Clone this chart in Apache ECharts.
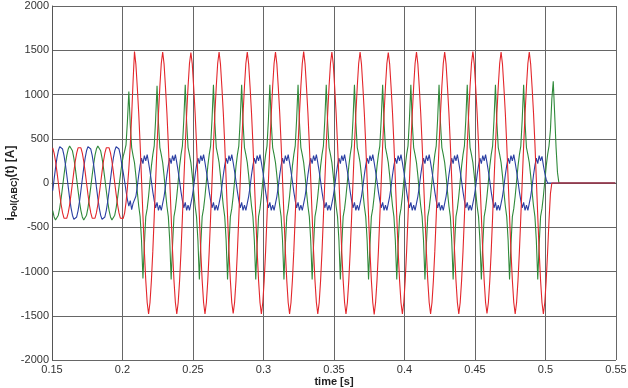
<!DOCTYPE html>
<html><head><meta charset="utf-8">
<script src="https://cdn.jsdelivr.net/npm/echarts/dist/echarts.min.js"></script>
<style>html,body{margin:0;padding:0;background:#fff}#c{width:628px;height:388px}</style>
</head><body><div id="c"></div>
<script>
// sampling grid: t = tStart + i * tStep  [s]
const tStart = 0.1505;
const tStep = 0.001;
const xMin = 0.15, xMax = 0.55, xStep = 0.05;
const yMin = -2000, yMax = 2000, yStep = 500;

// phase A (red) current [A]
const phaseRed = [
398,338,246,129,0,-129,-246,-338,-398,-418,-398,-338,-246,-129,0,129,246,338,398,418,
398,338,246,129,0,-129,-246,-338,-398,-418,-398,-338,-246,-129,0,129,246,338,398,418,
398,338,246,129,0,-129,-246,-338,-398,-418,
-400,-340,-220,-50,160,420,760,1150,
1485,1340,1080,790,440,40,-370,-770,-1100,-1350,-1480,-1350,-1100,-770,-380,20,420,780,1090,1350,
1480,1340,1080,790,440,40,-370,-770,-1100,-1350,-1480,-1350,-1100,-770,-380,20,420,780,1090,1350,
1475,1340,1080,790,440,40,-370,-770,-1100,-1350,-1480,-1350,-1100,-770,-380,20,420,780,1090,1350,
1480,1340,1080,790,440,40,-370,-770,-1100,-1350,-1475,-1350,-1100,-770,-380,20,420,780,1090,1350,
1480,1340,1080,790,440,40,-370,-770,-1100,-1350,-1480,-1350,-1100,-770,-380,20,420,780,1090,1350,
1480,1340,1080,790,440,40,-370,-770,-1100,-1350,-1480,-1350,-1100,-770,-380,20,420,780,1090,1350,
1485,1340,1080,790,440,40,-370,-770,-1100,-1350,-1480,-1350,-1100,-770,-380,20,420,780,1090,1350,
1480,1340,1080,790,440,40,-370,-770,-1100,-1350,-1480,-1350,-1100,-770,-380,20,420,780,1090,1350,
1480,1340,1080,790,440,40,-370,-770,-1100,-1350,-1485,-1350,-1100,-770,-380,20,420,780,1090,1350,
1475,1340,1080,790,440,40,-370,-770,-1100,-1350,-1480,-1350,-1100,-770,-380,20,420,780,1090,1350,
1480,1340,1080,790,440,40,-370,-770,-1100,-1350,-1480,-1350,-1100,-770,-380,20,420,780,1090,1350,
1480,1340,1080,790,440,40,-370,-770,-1100,-1350,-1480,-1350,-1100,-770,-380,20,420,780,1090,1350,
1485,1340,1080,790,440,40,-370,-770,-1100,-1350,-1475,-1350,-1100,-770,-380,20,420,780,1090,1350,
1480,1340,1080,790,440,40,-370,-770,-1100,-1350,-1480,-1350,-1100,-770,-380,20,420,780,1090,1350,
1480,1340,1080,790,440,40,-370,-770,-1100,-1350,-1480,
-1350,-1100,-780,-420,-120,
0,0,0,0,0,0,0,0,0,0,0,0,0,0,0,0,0,0,0,0,0,0,0,0,0,0,0,0,0,0,0,0,0,0,0,0,0,0,0,0,0,0,0,0,0,0
];

// phase B (blue) current [A]
const phaseBlue = [
-87,44,171,281,364,411,418,384,312,210,87,-44,-171,-281,-364,-411,-418,-384,-312,-210,
-87,44,171,281,364,411,418,384,312,210,87,-44,-171,-281,-364,-411,-418,-384,-312,-210,
-87,44,171,281,364,411,418,384,312,210,
120,20,-90,-190,-260,-200,-300,-230,
-230,-150,-40,90,200,280,220,310,250,320,230,130,20,-100,-200,-280,-220,-310,-250,-310,
-230,-150,-40,90,200,280,220,310,250,320,230,130,20,-100,-200,-280,-220,-310,-250,-310,
-230,-150,-40,90,200,280,220,310,250,320,230,130,20,-100,-200,-280,-220,-310,-250,-310,
-230,-150,-40,90,200,280,220,310,250,320,230,130,20,-100,-200,-280,-220,-310,-250,-310,
-230,-150,-40,90,200,280,220,310,250,320,230,130,20,-100,-200,-280,-220,-310,-250,-310,
-230,-150,-40,90,200,280,220,310,250,320,230,130,20,-100,-200,-280,-220,-310,-250,-310,
-230,-150,-40,90,200,280,220,310,250,320,230,130,20,-100,-200,-280,-220,-310,-250,-310,
-230,-150,-40,90,200,280,220,310,250,320,230,130,20,-100,-200,-280,-220,-310,-250,-310,
-230,-150,-40,90,200,280,220,310,250,320,230,130,20,-100,-200,-280,-220,-310,-250,-310,
-230,-150,-40,90,200,280,220,310,250,320,230,130,20,-100,-200,-280,-220,-310,-250,-310,
-230,-150,-40,90,200,280,220,310,250,320,230,130,20,-100,-200,-280,-220,-310,-250,-310,
-230,-150,-40,90,200,280,220,310,250,320,230,130,20,-100,-200,-280,-220,-310,-250,-310,
-230,-150,-40,90,200,280,220,310,250,320,230,130,20,-100,-200,-280,-220,-310,-250,-310,
-230,-150,-40,90,200,280,220,310,250,320,230,130,20,-100,-200,-280,-220,-310,-250,-310,
-230,-150,-40,90,200,280,220,310,250,300,
200,110,40,
0,0,0,0,0,0,0,0,0,0,0,0,0,0,0,0,0,0,0,0,0,0,0,0,0,0,0,0,0,0,0,0,0,0,0,0,0,0,0,0,0,0,0,0,0,0,0,0,0
];

// phase C (green) current [A]
const phaseGreen = [
-312,-384,-418,-411,-364,-281,-171,-44,87,210,312,384,418,411,364,281,171,44,-87,-210,
-312,-384,-418,-411,-364,-281,-171,-44,87,210,312,384,418,411,364,281,171,44,-87,-210,
-312,-384,-418,-411,-364,-281,-171,-44,87,210,
300,360,430,700,1035,660,400,310,
230,80,-100,-260,-380,-650,-1080,-700,-380,-290,-150,20,190,320,420,720,1100,680,400,320,
230,80,-100,-260,-380,-650,-1090,-700,-380,-290,-150,20,190,320,420,720,1110,680,400,320,
230,80,-100,-260,-380,-650,-1090,-700,-380,-290,-150,20,190,320,420,720,1110,680,400,320,
230,80,-100,-260,-380,-650,-1090,-700,-380,-290,-150,20,190,320,420,720,1110,680,400,320,
230,80,-100,-260,-380,-650,-1090,-700,-380,-290,-150,20,190,320,420,720,1110,680,400,320,
230,80,-100,-260,-380,-650,-1090,-700,-380,-290,-150,20,190,320,420,720,1110,680,400,320,
230,80,-100,-260,-380,-650,-1090,-700,-380,-290,-150,20,190,320,420,720,1110,680,400,320,
230,80,-100,-260,-380,-650,-1090,-700,-380,-290,-150,20,190,320,420,720,1110,680,400,320,
230,80,-100,-260,-380,-650,-1090,-700,-380,-290,-150,20,190,320,420,720,1110,680,400,320,
230,80,-100,-260,-380,-650,-1090,-700,-380,-290,-150,20,190,320,420,720,1110,680,400,320,
230,80,-100,-260,-380,-650,-1090,-700,-380,-290,-150,20,190,320,420,720,1110,680,400,320,
230,80,-100,-260,-380,-650,-1090,-700,-380,-290,-150,20,190,320,420,720,1110,680,400,320,
230,80,-100,-260,-380,-650,-1090,-700,-380,-290,-150,20,190,320,420,720,1110,680,400,320,
230,80,-100,-260,-380,-650,-1090,-700,-380,-290,-150,20,190,320,420,720,1110,680,400,320,
230,80,-100,-260,-380,-650,-1090,-700,-380,-290,-150,20,190,320,420,
600,950,1150,780,400,120,
0,0,0,0,0,0,0,0,0,0,0,0,0,0,0,0,0,0,0,0,0,0,0,0,0,0,0,0,0,0,0,0,0,0,0,0,0,0,0,0,0
];

function toPairs(vals) {
  return vals.map((v, i) => [Math.round((tStart + i * tStep) * 1e5) / 1e5, v]);
}

const FONT = '"Liberation Sans", Arial, sans-serif';
const chart = echarts.init(document.getElementById('c'), null, {renderer: 'canvas'});
const lineSeries = (name, data, color) => ({
  name, type: 'line', data: toPairs(data), showSymbol: false, symbol: 'none',
  lineStyle: {color, width: 1.1}, itemStyle: {color}, animation: false, silent: true
});
chart.setOption({
  animation: false,
  backgroundColor: '#fff',
  grid: {left: 52, right: 12, top: 6, bottom: 28, outerBoundsMode: 'none', containLabel: false},
  xAxis: {
    type: 'value', min: xMin, max: xMax, interval: xStep,
    name: 'time [s]', nameLocation: 'middle', nameGap: 16, nameMoveOverlap: false,
    nameTextStyle: {fontFamily: FONT, fontSize: 11, fontWeight: 'bold', color: '#222'},
    axisLine: {show: true, lineStyle: {color: '#555', width: 1}},
    axisTick: {show: false},
    axisLabel: {fontFamily: FONT, fontSize: 11, color: '#333', margin: 4, showMinLabel: true, showMaxLabel: true,
      formatter: v => String(parseFloat(v.toFixed(2)))},
    splitLine: {show: true, lineStyle: {color: '#666', width: 1}}
  },
  yAxis: {
    type: 'value', min: yMin, max: yMax, interval: yStep,
    name: '{m|i}{s|Pol(ABC)}{m|(t) [A]}', nameLocation: 'middle', nameGap: 33, nameRotate: 90, nameMoveOverlap: false,
    nameTextStyle: {
      color: '#222',
      rich: {
        m: {fontFamily: FONT, fontSize: 12, fontWeight: 'bold', color: '#222', lineHeight: 14, verticalAlign: 'top'},
        s: {fontFamily: FONT, fontSize: 9, fontWeight: 'bold', color: '#222', lineHeight: 10, padding: [6, 0, 0, 0], verticalAlign: 'bottom'}
      }
    },
    axisLine: {show: true, lineStyle: {color: '#555', width: 1}},
    axisTick: {show: false},
    axisLabel: {fontFamily: FONT, fontSize: 11, color: '#333', margin: 3, showMinLabel: true, showMaxLabel: true,
      formatter: v => String(Math.round(v))},
    splitLine: {show: true, lineStyle: {color: '#666', width: 1}}
  },
  series: [
    lineSeries('C', phaseGreen, '#2f8a3a'),
    lineSeries('B', phaseBlue, '#2b3fa3'),
    lineSeries('A', phaseRed, '#e3262b')
  ]
});
</script>
</body></html>
